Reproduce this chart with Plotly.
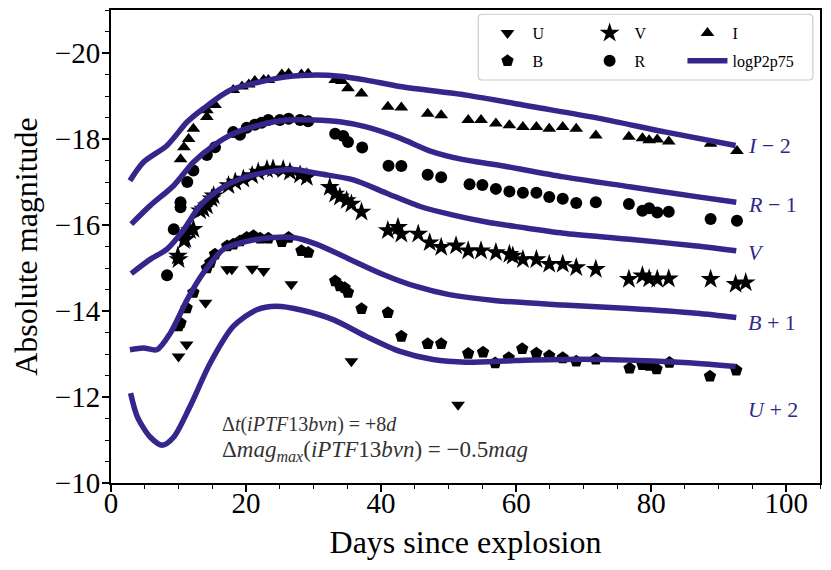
import plotly.graph_objects as go

U_day = [10.0, 11.2, 14.0, 17.2, 17.9, 20.9, 22.6, 26.7, 35.6, 51.4]
U_mag = [-12.94, -13.22, -14.19, -14.97, -14.97, -14.98, -14.93, -14.62, -12.83, -11.82]

B_day = [10.0, 10.3, 11.2, 12.2, 14.2, 14.7, 15.4, 17.2, 18.1, 19.1, 20.1, 21.1, 22.1, 23.3, 25.3,
         26.3, 28.2, 29.2, 33.2, 33.9, 34.6, 35.1, 37.1, 41.0, 43.0, 46.9, 48.9, 52.9, 55.1, 56.9,
         58.9, 60.9, 63.0, 64.9, 66.9, 68.9, 71.8, 76.8, 78.7, 79.7, 80.8, 82.7, 88.7, 92.6]
B_mag = [-13.65, -13.72, -14.07, -14.43, -15.0, -15.13, -15.32, -15.51, -15.55, -15.63, -15.71, -15.75,
         -15.69, -15.69, -15.61, -15.71, -15.40, -15.36, -14.70, -14.58, -14.54, -14.43, -14.05, -13.96,
         -13.41, -13.24, -13.24, -13.01, -13.04, -12.79, -12.91, -13.12, -13.02, -12.96, -12.91, -12.83,
         -12.88, -12.67, -12.75, -12.73, -12.65, -12.80, -12.48, -12.62]

V_day = [9.9, 10.0, 10.8, 11.0, 11.7, 12.2, 13.2, 13.7, 14.2, 14.9, 15.2, 17.4, 18.4, 19.6, 20.9,
         21.8, 23.1, 24.0, 25.5, 26.5, 28.0, 29.0, 32.4, 33.2, 33.9, 34.9, 35.6, 37.1, 41.0, 42.5,
         43.0, 45.5, 47.2, 48.9, 51.1, 52.9, 54.8, 57.0, 59.0, 59.5, 61.0, 63.0, 64.9, 66.9, 68.9,
         71.8, 76.7, 78.7, 79.7, 80.9, 82.6, 88.8, 92.5, 94.0]
V_mag = [-15.28, -15.20, -15.64, -15.67, -15.87, -15.90, -16.33, -16.37, -16.45, -16.61, -16.68, -16.92,
         -17.00, -17.07, -17.15, -17.23, -17.29, -17.31, -17.29, -17.23, -17.17, -17.11, -16.88, -16.72,
         -16.65, -16.57, -16.49, -16.30, -15.87, -15.95, -15.79, -15.79, -15.59, -15.48, -15.52, -15.40,
         -15.40, -15.36, -15.32, -15.28, -15.20, -15.20, -15.09, -15.09, -15.01, -14.97, -14.74, -14.82,
         -14.75, -14.74, -14.75, -14.74, -14.62, -14.66]

R_day = [8.3, 9.3, 10.3, 10.3, 11.3, 12.2, 14.2, 15.4, 18.1, 19.1, 20.1, 21.3, 22.3, 23.3, 25.0,
         26.3, 28.0, 29.2, 33.2, 34.4, 35.1, 37.2, 41.1, 43.0, 46.9, 48.9, 53.1, 55.0, 57.0, 59.0,
         61.0, 63.0, 64.9, 66.9, 68.9, 71.8, 76.7, 78.7, 79.7, 80.9, 82.6, 88.8, 92.7]
R_mag = [-14.83, -15.90, -16.53, -16.41, -17.00, -17.27, -17.63, -17.81, -18.16, -18.10, -18.26, -18.33,
         -18.38, -18.44, -18.44, -18.47, -18.44, -18.41, -18.12, -18.07, -17.93, -17.80, -17.38, -17.37,
         -17.17, -17.11, -16.95, -16.93, -16.84, -16.78, -16.75, -16.75, -16.65, -16.61, -16.51, -16.53,
         -16.49, -16.33, -16.39, -16.29, -16.31, -16.14, -16.10]

I_day = [10.3, 10.8, 11.5, 12.2, 14.2, 14.2, 15.4, 18.1, 19.4, 20.4, 21.3, 22.6, 23.3, 25.3, 26.3,
         28.2, 29.2, 33.2, 34.2, 35.1, 37.1, 41.0, 43.0, 46.9, 48.9, 52.9, 54.8, 57.0, 59.0, 61.0,
         63.0, 64.9, 66.9, 68.9, 71.8, 76.7, 78.7, 79.7, 80.9, 82.6, 88.8, 92.7]
I_mag = [-17.53, -17.81, -18.00, -18.24, -18.51, -18.67, -18.79, -19.14, -19.22, -19.27, -19.35, -19.37,
         -19.37, -19.50, -19.52, -19.50, -19.52, -19.37, -19.35, -19.18, -19.06, -18.75, -18.73, -18.59,
         -18.55, -18.44, -18.44, -18.36, -18.32, -18.28, -18.28, -18.24, -18.28, -18.24, -18.08, -18.05,
         -18.02, -17.97, -17.99, -17.94, -17.89, -17.72]

# logP2p75 model curves (already shifted by the offsets in the labels)
I_model_day = [2.8, 4.8, 8.3, 11.3, 13.7, 17.7, 22.1, 26.0, 30.5, 33.9, 37.8, 42.8, 52.6, 62.5, 72.3, 82.2, 92.5]
I_model_mag = [-17.03, -17.46, -17.85, -18.40, -18.71, -19.14, -19.33, -19.45, -19.49, -19.46, -19.37,
               -19.22, -19.02, -18.75, -18.48, -18.16, -17.85]

R_model_day = [3.0, 5.8, 9.3, 12.2, 15.2, 18.1, 22.1, 26.0, 30.0, 33.9, 37.8, 42.8, 47.3, 52.2, 57.1,
               67.0, 76.8, 86.7, 92.6]
R_model_mag = [-16.02, -16.45, -16.92, -17.46, -17.85, -18.12, -18.33, -18.44, -18.44, -18.40, -18.28,
               -18.02, -17.72, -17.52, -17.40, -17.12, -16.89, -16.66, -16.53]

V_model_day = [3.0, 5.8, 8.3, 10.8, 13.2, 16.2, 19.1, 23.1, 27.0, 30.9, 35.9, 40.8, 45.8, 50.7, 55.6,
               60.6, 67.0, 76.8, 86.7, 92.6]
V_model_mag = [-14.87, -15.20, -15.44, -15.90, -16.45, -16.84, -17.07, -17.23, -17.29, -17.19, -17.05,
               -16.74, -16.43, -16.23, -16.07, -15.95, -15.81, -15.67, -15.51, -15.40]

B_model_day = [2.8, 4.8, 6.8, 8.8, 11.3, 13.7, 16.7, 19.6, 24.0, 27.0, 30.5, 35.4, 40.3, 45.2, 50.1,
               57.1, 67.0, 76.8, 86.7, 92.6]
B_model_mag = [-13.10, -13.14, -13.10, -13.49, -14.27, -14.89, -15.44, -15.60, -15.71, -15.71, -15.55,
               -15.20, -14.85, -14.57, -14.38, -14.24, -14.14, -14.06, -13.95, -13.85]

U_model_day = [2.9, 3.9, 5.8, 7.6, 9.3, 11.7, 14.7, 18.1, 21.6, 24.5, 28.0, 32.9, 37.8, 42.8, 47.7,
               52.6, 60.0, 69.4, 84.1, 92.5]
U_model_mag = [-12.09, -11.54, -11.07, -10.88, -11.07, -11.78, -12.79, -13.64, -14.03, -14.11, -14.03,
               -13.80, -13.41, -13.06, -12.87, -12.81, -12.85, -12.88, -12.81, -12.71]

curve_labels = ["<i>I</i> − 2", "<i>R</i> − 1", "<i>V</i>", "<i>B</i> + 1", "<i>U</i> + 2"]
label_mag = [-17.86, -16.47, -15.37, -13.74, -11.70]

MODEL_COLOR = "#33278c"
FONT = "Liberation Serif"

fig = go.Figure()

# observed points, one legend column each: (U,B) (V,R) (I,model)
obs = [
    ("U", U_day, U_mag, "triangle-down", 12, "legend"),
    ("B", B_day, B_mag, "pentagon", 13, "legend"),
    ("V", V_day, V_mag, "star", 15, "legend2"),
    ("R", R_day, R_mag, "circle", 12, "legend2"),
    ("I", I_day, I_mag, "triangle-up", 12, "legend3"),
]
for name, d, m, sym, sz, leg in obs:
    fig.add_trace(go.Scatter(
        x=d, y=m, mode="markers", name=name, legend=leg, legendgroup=name,
        marker=dict(symbol=sym, size=sz, color="black", line=dict(width=0)),
    ))

models = [
    (I_model_day, I_model_mag),
    (R_model_day, R_model_mag),
    (V_model_day, V_model_mag),
    (B_model_day, B_model_mag),
    (U_model_day, U_model_mag),
]
for i, (d, m) in enumerate(models):
    fig.add_trace(go.Scatter(
        x=d, y=m, mode="lines", name="logP2p75", legend="legend3", legendgroup="model",
        showlegend=(i == 0),
        line=dict(color=MODEL_COLOR, width=5.5, shape="spline", smoothing=0.8),
    ))

annotations = []
for lab, ym in zip(curve_labels, label_mag):
    annotations.append(dict(
        x=94.0, y=ym, xref="x", yref="y", text=lab, showarrow=False,
        xanchor="left", yanchor="middle",
        font=dict(family=FONT, size=22, color=MODEL_COLOR),
    ))
annotations.append(dict(
    x=16.2, y=-11.35, xref="x", yref="y", showarrow=False, xanchor="left", yanchor="middle",
    text="Δ<i>t</i>(<i>iPTF</i>13<i>bvn</i>) = +8<i>d</i>",
    font=dict(family=FONT, size=20, color="#333333"),
))
annotations.append(dict(
    x=16.2, y=-10.74, xref="x", yref="y", showarrow=False, xanchor="left", yanchor="middle",
    text="Δ<i>mag</i><sub><i>max</i></sub>(<i>iPTF</i>13<i>bvn</i>) = −0.5<i>mag</i>",
    font=dict(family=FONT, size=23, color="#333333"),
))

leg_common = dict(
    orientation="v", yanchor="top", xanchor="left", y=0.987,
    bgcolor="rgba(0,0,0,0)", borderwidth=0, tracegroupgap=4,
    font=dict(family=FONT, size=16, color="black"), itemwidth=40,
)

# legend frame with rounded corners (paper coordinates)
bx0, bx1, by0, by1 = 0.518, 0.990, 0.852, 0.991
rx, ry = 0.006, 0.009
box_path = (f"M{bx0 + rx},{by0} L{bx1 - rx},{by0} Q{bx1},{by0} {bx1},{by0 + ry} "
            f"L{bx1},{by1 - ry} Q{bx1},{by1} {bx1 - rx},{by1} L{bx0 + rx},{by1} "
            f"Q{bx0},{by1} {bx0},{by1 - ry} L{bx0},{by0 + ry} Q{bx0},{by0} {bx0 + rx},{by0} Z")

# page body has an 8px margin, so the figure is 8px smaller and margins shifted
fig.update_layout(
    width=823, height=562,
    margin=dict(l=103, r=11, t=2, b=87),
    plot_bgcolor="white", paper_bgcolor="white",
    font=dict(family=FONT, color="black"),
    annotations=annotations,
    legend=dict(x=0.524, **leg_common),
    legend2=dict(x=0.668, **leg_common),
    legend3=dict(x=0.806, **leg_common),
    shapes=[dict(
        type="path", path=box_path, xref="paper", yref="paper", layer="below",
        line=dict(color="#cccccc", width=1.2), fillcolor="white",
    )],
    xaxis=dict(
        range=[0, 105], dtick=20, showgrid=False, zeroline=False, automargin=False,
        showline=True, linecolor="black", linewidth=2, mirror=True,
        ticks="outside", ticklen=7, tickwidth=1.5, tickcolor="black",
        minor=dict(dtick=5, ticks="outside", ticklen=4, tickwidth=1, tickcolor="black"),
        tickfont=dict(family=FONT, size=29), ticklabelstandoff=-14,
        title=dict(text="Days since explosion", font=dict(family=FONT, size=32), standoff=13),
    ),
    yaxis=dict(
        range=[-10, -21], dtick=2, showgrid=False, zeroline=False, automargin=False,
        showline=True, linecolor="black", linewidth=2, mirror=True,
        ticks="outside", ticklen=7, tickwidth=1.5, tickcolor="black",
        minor=dict(dtick=0.5, ticks="outside", ticklen=4, tickwidth=1, tickcolor="black"),
        tickfont=dict(family=FONT, size=29), ticklabelstandoff=-4,
        title=dict(text="Absolute magnitude", font=dict(family=FONT, size=32), standoff=21),
    ),
)

fig.write_html("out.html")
